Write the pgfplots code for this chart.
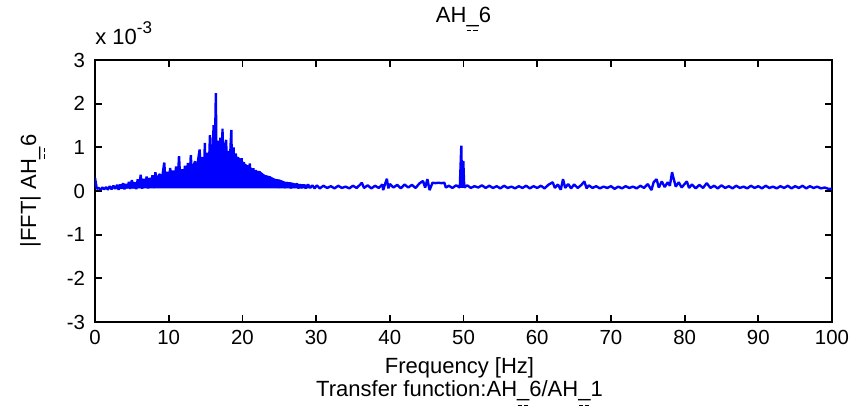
\documentclass[border=0pt]{standalone}
\usepackage{pgfplots}
\pgfplotsset{compat=1.18}
\usepackage{fontspec}
\setmainfont{Liberation Sans}
\newcommand{\us}{\_\llap{\raisebox{-4.6pt}{\rule{2.2pt}{0.55pt}\hspace{0.9pt}\rule{2.2pt}{0.55pt}\hspace{0.6pt}}}}
\definecolor{mblue}{RGB}{0,0,255}
\begin{document}
\begin{tikzpicture}
\begin{axis}[
  scale only axis,
  width=368.5pt, height=131pt,
  xmin=0, xmax=100, ymin=-3, ymax=3,
  clip mode=individual,
  xtick={0,10,...,100}, ytick={-3,-2,...,3},
  tick align=inside,
  major tick length=3.5pt,
  axis line style={line width=0.9pt},
  every tick/.style={black, line width=0.9pt},
  /pgf/number format/assume math mode=true,
  xticklabel style={yshift=-0.5pt},
  yticklabel style={xshift=-1.5pt},
  tick label style={font=\fontsize{10.2}{12}\selectfont},
  ylabel={|FFT| AH\us 6},
  ylabel style={at={(axis description cs:-0.067,0.5)}, anchor=south, inner sep=0pt, font=\fontsize{11}{13}\selectfont},
]
% dense body of the spectrum (many overlapping FFT lines)
\addplot[fill=mblue, draw=mblue, line width=0.5pt, mark=none] coordinates {
(2,0.08) (3,0.11) (4,0.15) (4.5,0.13) (5,0.19) (5.5,0.17) (6,0.24) (6.5,0.21) (7,0.28) (7.5,0.25) (8,0.32) (8.5,0.28)
(9,0.36) (9.5,0.31) (10,0.39) (10.5,0.35) (11,0.42) (11.5,0.38) (12,0.46) (12.5,0.42) (13,0.50) (13.5,0.47)
(14,0.58) (14.5,0.52) (15,0.65) (15.4,0.60) (15.8,0.70) (16.2,0.66) (16.5,0.80) (16.8,0.72) (17.2,0.86) (17.6,0.80)
(18,0.88) (18.4,0.82) (18.8,0.88) (19.2,0.78) (19.7,0.74) (20.3,0.62) (20.9,0.56) (21.6,0.47) (22.4,0.44) (23.0,0.36)
(23.7,0.33) (24.4,0.27) (25.1,0.25) (25.8,0.20) (26.5,0.19) (27.2,0.16) (27.8,0.15) (29,0.13)
(29,0.07) (2,0.07)
};
\addplot[color=mblue, line width=1.2pt, line join=bevel, mark=none] coordinates {
(0,0.30) (0.25,0.05) (0.5,0.07) (0.75,0.03) (1,0.08) (1.25,0.04) (1.5,0.09) (1.75,0.03) (2,0.11) (2.25,0.04) (2.5,0.12) (2.75,0.05) (3,0.14)
(3.2,0.03) (3.4,0.15) (3.6,0.05) (3.8,0.18) (4.0,0.04) (4.2,0.16) (4.4,0.06) (4.6,0.21) (4.8,0.05) (5.0,0.25)
(5.2,0.06) (5.4,0.20) (5.6,0.04) (5.8,0.27) (6.0,0.07) (6.2,0.37) (6.4,0.05) (6.6,0.28) (6.8,0.08) (7.0,0.33)
(7.2,0.06) (7.4,0.30) (7.6,0.09) (7.8,0.36) (8.0,0.07) (8.2,0.43) (8.4,0.10) (8.6,0.34) (8.8,0.39) (9.0,0.08)
(9.2,0.41) (9.4,0.65) (9.6,0.09) (9.8,0.44) (10.0,0.12)
(10.2,0.53) (10.4,0.10) (10.6,0.47) (10.8,0.14) (11.0,0.56) (11.2,0.11) (11.4,0.80) (11.6,0.15) (11.8,0.50) (12.0,0.12)
(12.2,0.58) (12.4,0.16) (12.6,0.64) (12.8,0.13) (13.0,0.82) (13.2,0.17) (13.4,0.60) (13.6,0.68) (13.8,0.14) (14.0,0.72)
(14.2,0.95) (14.4,0.18) (14.6,0.78) (14.8,0.20) (14.9,1.10) (15.0,0.16) (15.2,0.88) (15.4,0.22) (15.6,1.28) (15.8,0.19)
(16.0,1.05) (16.1,1.51) (16.2,0.25) (16.4,2.24) (16.5,0.20) (16.6,1.15) (16.8,0.17) (17.0,1.22) (17.2,0.23) (17.3,1.43)
(17.4,0.19) (17.6,1.02) (17.8,1.17) (17.9,0.21) (18.0,0.92) (18.2,0.18) (18.4,1.05) (18.5,1.40) (18.6,0.22) (18.8,1.00)
(19.0,0.17) (19.1,0.86) (19.3,0.20) (19.4,0.78) (19.6,0.15) (19.9,0.75) (20.0,0.18) (20.2,0.66) (20.4,0.14) (20.6,0.58)
(20.8,0.16) (21.0,0.63) (21.2,0.12) (21.5,0.52) (21.6,0.14) (21.8,0.48) (22.0,0.11) (22.2,0.44) (22.4,0.42) (22.6,0.10)
(22.8,0.38) (23.0,0.12) (23.2,0.35) (23.4,0.09) (23.7,0.33) (23.8,0.10) (24.0,0.28) (24.2,0.08) (24.4,0.26) (24.6,0.10)
(24.8,0.22) (25.0,0.07) (25.1,0.21) (25.4,0.09) (25.6,0.19) (25.8,0.07) (26.0,0.20) (26.2,0.08) (26.4,0.16) (26.6,0.06)
(26.8,0.18) (27.0,0.08) (27.4,0.17) (27.6,0.06) (27.8,0.15) (28.0,0.07) (28.3,0.14) (28.6,0.06) (28.9,0.15) (29.2,0.07)
(29.5,0.13) (29.8,0.06)
(30.1,0.13) (30.5,0.06) (31.0,0.12) (31.5,0.07) (32.0,0.11) (32.5,0.06) (33.0,0.12) (33.5,0.07) (34.0,0.10) (34.5,0.06)
(35.0,0.12) (35.5,0.07) (36.0,0.15) (36.2,0.19) (36.5,0.07) (37.0,0.13) (37.5,0.06) (38.0,0.12) (38.5,0.07) (39.0,0.15)
(39.1,0.02) (39.4,0.18) (39.6,0.28) (39.8,0.06) (40.0,0.16) (40.5,0.08) (41.0,0.14) (41.5,0.06) (42.0,0.15) (42.5,0.08)
(43.0,0.14) (43.5,0.07) (44.0,0.17) (44.5,0.23) (44.8,0.08) (45.1,0.27) (45.4,0.02) (45.8,0.19) (46.2,0.18) (46.6,0.19)
(47.0,0.18) (47.4,0.19) (47.6,0.08) (48.0,0.12) (48.5,0.07) (49.0,0.13) (49.5,0.08) (49.7,1.04) (49.8,0.07) (49.97,0.69)
(50.1,0.08) (50.5,0.13) (51.0,0.07) (51.5,0.11) (52.0,0.08) (52.5,0.13) (53.0,0.07) (53.5,0.12) (54.0,0.07) (54.5,0.11)
(55.0,0.06) (55.5,0.12) (56.0,0.07) (56.5,0.10) (57.0,0.06) (57.5,0.11) (58.0,0.07) (58.5,0.12) (59.0,0.06) (59.5,0.11)
(60.0,0.07) (60.5,0.12) (61.0,0.06) (61.5,0.14) (62.1,0.20) (62.4,0.07) (62.8,0.15) (63.2,0.03) (63.5,0.27) (63.8,0.07)
(64.2,0.16) (64.6,0.06) (65.0,0.15) (65.5,0.07) (66.0,0.14) (66.4,0.22) (66.7,0.06) (67.0,0.13) (67.5,0.07) (68.0,0.11)
(68.5,0.06) (69.0,0.10) (69.5,0.07) (70.0,0.11) (70.5,0.05) (71.0,0.10) (71.5,0.06) (72.0,0.11) (72.5,0.07) (73.0,0.10)
(73.5,0.06) (74.0,0.12) (74.5,0.07) (75.0,0.16) (75.5,0.02) (75.8,0.20) (76.2,0.27) (76.5,0.08) (76.9,0.22) (77.3,0.09)
(77.7,0.20) (78.0,0.12) (78.3,0.43) (78.5,0.29) (78.8,0.10) (79.2,0.20) (79.6,0.08) (80.0,0.16) (80.3,0.22) (80.6,0.07)
(81.0,0.15) (81.5,0.06) (82.0,0.14) (82.5,0.07) (83.0,0.18) (83.5,0.07) (84.0,0.12) (84.5,0.06) (85.0,0.13) (85.5,0.07)
(86.0,0.11) (86.5,0.06) (87.0,0.12) (87.5,0.07) (88.0,0.10) (88.5,0.06) (89.0,0.12) (89.5,0.07) (90.0,0.11) (90.5,0.06)
(91.0,0.12) (91.5,0.07) (92.0,0.10) (92.5,0.06) (93.0,0.11) (93.5,0.07) (94.0,0.12) (94.5,0.06) (95.0,0.11) (95.5,0.07)
(96.0,0.12) (96.5,0.06) (97.0,0.11) (97.5,0.07) (98.0,0.10) (98.5,0.06) (99.0,0.08) (99.5,0.05) (100,0.05)
};
\node[anchor=base west, inner sep=0pt, font=\fontsize{11}{13}\selectfont] at (rel axis cs:0,1) [yshift=8pt] {x 10\raisebox{5pt}{\fontsize{8.5}{9}\selectfont -3}};
\node[anchor=base, inner sep=0pt, font=\fontsize{11}{13}\selectfont] at (rel axis cs:0.5,1) [yshift=19pt] {AH\us 6};
\node[anchor=base, inner sep=0pt, font=\fontsize{11}{13}\selectfont] at (rel axis cs:0.5,0) [yshift=-26pt, xshift=-2pt] {Frequency [Hz]};
\node[anchor=base, inner sep=0pt, font=\fontsize{11}{13}\selectfont] at (rel axis cs:0.5,0) [yshift=-37.5pt, xshift=-2pt] {Transfer function:AH\us 6/AH\us 1};
\end{axis}
\path[use as bounding box] (-47.5pt,-46.5pt) rectangle (385.5pt,161pt);
\end{tikzpicture}
\end{document}
